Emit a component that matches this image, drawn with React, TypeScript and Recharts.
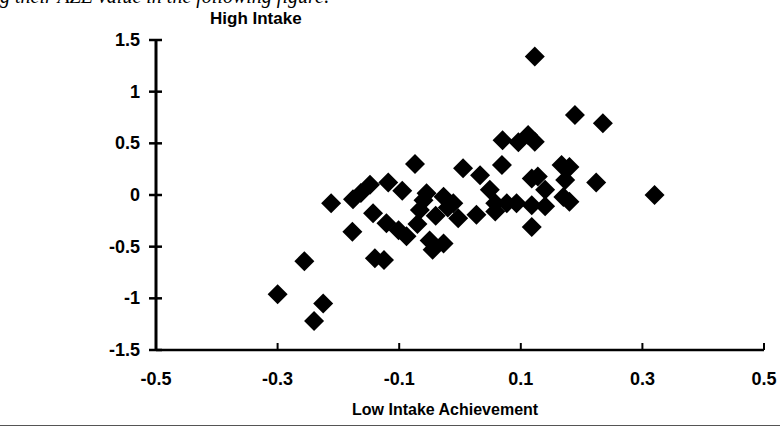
import { ScatterChart, Scatter, XAxis, YAxis } from 'recharts';

// Low intake achievement (x) and high intake (y)
const lowIntake = [
  -0.3, -0.24, -0.225, -0.256, -0.212, -0.177, -0.176, -0.163, -0.148, -0.118,
  -0.095, -0.143, -0.121, -0.101, -0.088, -0.14, -0.125, -0.074, -0.055, -0.027,
  -0.011, -0.066, -0.003, -0.05, -0.027, -0.045, -0.06, -0.04, -0.02, -0.07,
  0.005, 0.033, 0.027, 0.069, 0.049, 0.058, 0.077, 0.093, 0.058, 0.118,
  0.14, 0.118, 0.118, 0.128, 0.14, 0.167, 0.18, 0.173, 0.17, 0.18,
  0.224, 0.32, 0.07, 0.096, 0.112, 0.123, 0.123, 0.189, 0.235,
];
const highIntake = [
  -0.96, -1.22, -1.05, -0.64, -0.08, -0.355, -0.04, 0.02, 0.1, 0.12,
  0.04, -0.177, -0.274, -0.34, -0.4, -0.613, -0.63, 0.3, 0.016, -0.016,
  -0.08, -0.145, -0.226, -0.44, -0.47, -0.53, -0.05, -0.2, -0.12, -0.28,
  0.26, 0.19, -0.19, 0.29, 0.05, -0.08, -0.08, -0.08, -0.16, -0.1,
  -0.11, -0.31, 0.16, 0.18, 0.05, 0.29, 0.27, 0.145, -0.02, -0.065,
  0.12, 0, 0.53, 0.51, 0.58, 0.516, 1.34, 0.774, 0.694,
];
const xTicks = [-0.5, -0.3, -0.1, 0.1, 0.3, 0.5];
const yTicks = [-1.5, -1, -0.5, 0, 0.5, 1, 1.5];

const data = lowIntake.map((x, i) => ({ x, y: highIntake[i] }));

const FONT = '"Liberation Sans", Arial, sans-serif';

function Diamond(props: any) {
  const { cx, cy } = props;
  const r = 10;
  return (
    <polygon
      points={`${cx},${cy - r} ${cx + r},${cy} ${cx},${cy + r} ${cx - r},${cy}`}
      fill="#000"
    />
  );
}

function YTick(props: any) {
  const { x, y, payload } = props;
  return (
    <g>
      <line x1={x - 7} x2={x + 6} y1={y} y2={y} stroke="#000" strokeWidth={2.5} />
      <text x={x - 16} y={y} dy={6} textAnchor="end" fontFamily={FONT} fontWeight="bold" fontSize={18} fill="#000">
        {payload.value}
      </text>
    </g>
  );
}

function XTick(props: any) {
  const { x, y, payload } = props;
  return (
    <g>
      <line x1={x} x2={x} y1={y} y2={y - 7} stroke="#000" strokeWidth={2} />
      <text x={x} y={y + 35} textAnchor="middle" fontFamily={FONT} fontWeight="bold" fontSize={18} fill="#000">
        {payload.value.toFixed(1)}
      </text>
    </g>
  );
}

export default function App() {
  return (
    <div style={{ position: 'absolute', left: 0, top: 0, width: 780, height: 432, background: '#fff', fontFamily: FONT }}>
      <div style={{ position: 'absolute', left: 0, top: -15, fontFamily: '"Liberation Serif", serif', fontStyle: 'italic', fontSize: 20, color: '#000', whiteSpace: 'nowrap' }}>
        g their AZE value in the following figure:
      </div>
      <div style={{ position: 'absolute', left: 210, top: 9, fontWeight: 'bold', fontSize: 17 }}>High Intake</div>
      <div style={{ position: 'absolute', left: 352, top: 401, fontWeight: 'bold', fontSize: 16 }}>Low Intake Achievement</div>
      <div style={{ position: 'absolute', left: 0, width: 780, top: 425, borderTop: '1px solid #555' }} />
      <ScatterChart width={780} height={432} margin={{ top: 40, right: 16, bottom: 0, left: 0 }}>
        <XAxis
          type="number"
          dataKey="x"
          domain={[-0.5, 0.5]}
          ticks={xTicks}
          tick={<XTick />}
          tickLine={false}
          tickSize={0}
          tickMargin={0}
          height={82}
          stroke="#000"
          strokeWidth={2.5}
          interval={0}
        />
        <YAxis
          type="number"
          dataKey="y"
          domain={[-1.5, 1.5]}
          ticks={yTicks}
          tick={<YTick />}
          tickLine={false}
          tickSize={0}
          tickMargin={0}
          width={156}
          stroke="#000"
          strokeWidth={3}
          interval={0}
        />
        <Scatter data={data} fill="#000" shape={<Diamond />} isAnimationActive={false} />
      </ScatterChart>
    </div>
  );
}
